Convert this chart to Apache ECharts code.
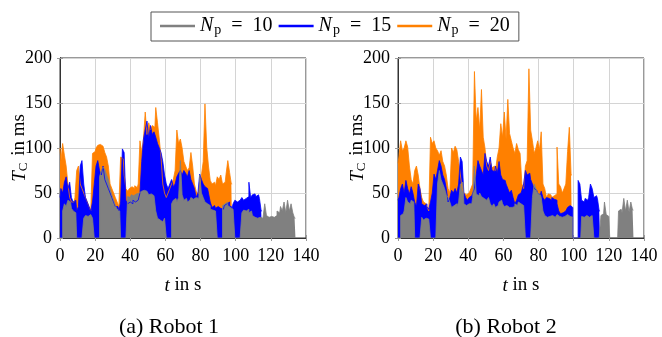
<!DOCTYPE html>
<html>
<head>
<meta charset="utf-8">
<script src="https://cdn.jsdelivr.net/npm/echarts@6/dist/echarts.min.js"></script>
<style>
  html, body { margin: 0; padding: 0; background: #fff; }
  #chart { width: 662px; height: 337px; }
</style>
</head>
<body>
<div id="chart"></div>
<script>
  // sample spacing: 1 s, first sample at t = 0
  const xTicks = [0, 20, 40, 60, 80, 100, 120, 140]
  const yTicks = [0, 50, 100, 150, 200]
  const legendNames = ['10', '15', '20']

  // Robot 1
  const r1Np20 = [100, 85, 105, 92, 80, 60, 45, 40, 40, 45, 75, 80, 60, 55, 50, 45, 40, 35, 30, 94,
    96, 100, 103, 104, 102, 100, 95, 90, 80, 60, 55, 50, 45, 40, 35, 90, 88, 70, 55, 52,
    55, 57, 55, 58, 56, 60, 108, 95, 110, 140, 115, 128, 120, 125, 123, 145, 128, 110, 90, 60,
    50, 45, 50, 55, 60, 65, 75, 120, 105, 110, 100, 85, 80, 75, 78, 95, 80, 60, 52, 49,
    55, 70, 85, 149, 101, 80, 64, 60, 62, 58, 68, 65, 70, 60, 62, 71, 86, 73, 60]
  const r1Np15 = [45, 55, 50, 62, 68, 55, 62, 45, 40, 42, 30, 35, 80, 86, 60, 45, 40, 35, 30, 40,
    60, 80, 86, 75, 70, 80, 65, 60, 55, 50, 45, 40, 35, 35, 30, 40, 99, 95, 42, 38,
    40, 38, 42, 40, 42, 44, 50, 85, 110, 120, 130, 110, 125, 115, 118, 112, 105, 100, 95, 85,
    70, 60, 55, 60, 65, 57, 60, 68, 72, 75, 70, 75, 72, 68, 75, 65, 60, 55, 45, 50,
    71, 65, 60, 57, 55, 50, 40, 34, 36, 33, 35, 33, 34, 32, 36, 38, 40, 36, 34, 38,
    42, 40, 42, 40, 45, 42, 44, 46, 62, 45, 48, 49, 46, 48, 44, 30]
  const r1Np10 = [0, 0, 30, 38, 35, 42, 40, 33, 30, 28, 0, 0, 0, 0, 22, 25, 24, 26, 25, 22,
    0, 0, 0, 68, 75, 79, 76, 70, 65, 55, 48, 42, 36, 32, 30, 0, 0, 0, 0, 46,
    45, 48, 47, 49, 48, 50, 52, 50, 53, 52, 50, 48, 49, 47, 45, 30, 22, 20, 18, 20,
    22, 0, 0, 0, 38, 42, 44, 40, 45, 86, 48, 42, 44, 40, 42, 45, 43, 45, 47, 44,
    70, 50, 45, 40, 38, 36, 32, 31, 30, 31, 0, 0, 0, 36, 38, 40, 36, 34, 32, 30,
    0, 0, 0, 0, 28, 31, 30, 32, 28, 30, 25, 23, 22, 24, 23, 22, 24, 38, 25, 23,
    24, 22, 23, 25, 30, 28, 35, 30, 40, 28, 42, 30, 38, 28, 22]

  // Robot 2
  const r2Np20 = [83, 90, 108, 97, 100, 108, 101, 80, 65, 60, 75, 80, 70, 55, 45, 40, 38, 35, 30, 112,
    105, 108, 100, 97, 92, 97, 85, 80, 70, 55, 50, 100, 95, 102, 98, 85, 70, 55, 50, 48,
    50, 52, 55, 60, 185, 130, 145, 120, 165, 112, 100, 80, 75, 85, 78, 80, 75, 90, 100, 127,
    112, 140, 110, 154, 116, 108, 100, 94, 105, 98, 94, 60, 55, 80, 86, 188, 120, 108, 94, 100,
    108, 98, 118, 60, 55, 45, 49, 48, 45, 47, 49, 101, 60, 57, 50, 55, 60, 96, 123, 70]
  const r2Np15 = [42, 45, 55, 60, 50, 64, 55, 49, 57, 50, 40, 35, 60, 55, 38, 36, 38, 35, 32, 40,
    50, 71, 65, 75, 86, 80, 70, 65, 55, 40, 45, 53, 50, 55, 50, 60, 90, 85, 50, 45,
    42, 45, 47, 50, 55, 70, 86, 80, 75, 70, 94, 85, 80, 90, 75, 74, 80, 72, 85, 70,
    65, 64, 60, 55, 50, 53, 45, 38, 42, 48, 50, 53, 60, 75, 70, 72, 65, 60, 55, 53,
    50, 48, 52, 45, 42, 45, 44, 42, 45, 43, 42, 38, 30, 27, 28, 30, 32, 34, 36, 34,
    0, 0, 0, 64, 60, 42, 40, 44, 42, 45, 60, 55, 45, 47, 44, 30]
  const r2Np10 = [0, 0, 25, 27, 30, 45, 40, 38, 42, 40, 0, 0, 0, 0, 23, 20, 22, 21, 20, 0,
    0, 0, 0, 60, 75, 65, 60, 55, 48, 45, 40, 34, 36, 38, 35, 40, 60, 62, 38, 36,
    38, 40, 38, 45, 80, 49, 47, 50, 46, 44, 42, 40, 45, 38, 35, 38, 34, 36, 40, 42,
    38, 35, 36, 34, 36, 34, 35, 38, 36, 40, 38, 36, 34, 0, 0, 0, 0, 45, 60, 55,
    50, 48, 45, 30, 25, 23, 24, 26, 25, 23, 24, 26, 24, 23, 25, 24, 26, 25, 24, 23,
    0, 0, 0, 0, 0, 24, 23, 25, 24, 23, 25, 24, 0, 0, 0, 0, 25, 27, 40, 26,
    24, 0, 0, 0, 0, 0, 30, 32, 28, 44, 30, 42, 29, 40, 31]

  const colors = { '10': '#808080', '15': '#0000ff', '20': '#ff8000' }
  const serif = 'Liberation Serif'

  const chart = echarts.init(document.getElementById('chart'), null, { renderer: 'canvas' })

  function pts(arr) {
    return arr.map((v, i) => [i, v])
  }

  function mkSeries(name, arr, idx) {
    return {
      name: name,
      type: 'line',
      step: 'middle',
      xAxisIndex: idx,
      yAxisIndex: idx,
      data: pts(arr),
      symbol: 'none',
      lineStyle: { width: 0.8, color: colors[name] },
      itemStyle: { color: colors[name] },
      areaStyle: { color: colors[name], opacity: 1 },
      animation: false
    }
  }

  const grids = [
    { left: 60, top: 58, width: 246, height: 180, show: true, borderColor: '#333', borderWidth: 1 },
    { left: 398, top: 58, width: 246, height: 180, show: true, borderColor: '#333', borderWidth: 1 }
  ]

  function xAx(g) {
    return {
      type: 'value', gridIndex: g, min: xTicks[0], max: xTicks[xTicks.length - 1], interval: 20,
      name: '{i|t} in s', nameLocation: 'middle', nameGap: 38, nameMoveOverlap: false,
      nameTextStyle: { fontFamily: serif, fontSize: 19, color: '#000',
        rich: { i: { fontFamily: serif, fontStyle: 'italic', fontSize: 19 } } },
      axisLine: { show: true, lineStyle: { color: '#333', width: 1 } },
      axisTick: { show: true, length: 3, lineStyle: { color: '#999' } },
      axisLabel: { fontFamily: serif, fontSize: 18, color: '#000', margin: 9 },
      splitLine: { show: true, lineStyle: { color: '#d4d4d4', width: 1 } }
    }
  }
  function xTop(g) {
    return {
      type: 'value', gridIndex: g, position: 'top', min: 0, max: 140, interval: 20,
      axisLine: { show: true, lineStyle: { color: '#333' } },
      axisTick: { show: true, length: 3, lineStyle: { color: '#999' } },
      axisLabel: { show: false }, splitLine: { show: false }
    }
  }
  function yAx(g) {
    return {
      type: 'value', gridIndex: g, min: yTicks[0], max: yTicks[yTicks.length - 1], interval: 50,
      name: '{i|T}{s|C} in ms', nameLocation: 'middle', nameGap: 30, nameRotate: 90,
      nameMoveOverlap: false,
      nameTextStyle: { fontFamily: serif, fontSize: 19, color: '#000',
        rich: {
          i: { fontFamily: serif, fontStyle: 'italic', fontSize: 19 },
          s: { fontFamily: serif, fontSize: 13, padding: [8, 2, 0, 0] }
        } },
      axisLine: { show: true, lineStyle: { color: '#000', width: 1 } },
      axisTick: { show: true, length: 3, lineStyle: { color: '#999' } },
      axisLabel: { fontFamily: serif, fontSize: 18, color: '#000', margin: 8 },
      splitLine: { show: true, lineStyle: { color: '#d4d4d4', width: 1 } }
    }
  }
  function yRight(g) {
    return {
      type: 'value', gridIndex: g, position: 'right', min: 0, max: 200, interval: 50,
      axisLine: { show: true, lineStyle: { color: '#333' } },
      axisTick: { show: true, length: 3, lineStyle: { color: '#999' } },
      axisLabel: { show: false }, splitLine: { show: false }
    }
  }

  const captionStyle = { fontFamily: serif, fontSize: 22, fontWeight: 'normal', color: '#000' }

  chart.setOption({
    backgroundColor: '#fff',
    animation: false,
    title: [
      { text: '(a) Robot 1', left: 164, top: 311, textAlign: 'center', textStyle: captionStyle },
      { text: '(b) Robot 2', left: 501, top: 311, textAlign: 'center', textStyle: captionStyle }
    ],
    legend: {
      data: legendNames,
      left: 151,
      top: 12,
      padding: [4, 9, 4, 9],
      itemGap: 6,
      itemWidth: 35,
      itemHeight: 2.5,
      icon: 'rect',
      borderColor: '#555',
      borderWidth: 1,
      selectedMode: false,
      formatter: name => '{i|N}{s|p}{n|  =  ' + name + '}',
      textStyle: {
        color: '#000', fontFamily: serif, fontSize: 20,
        rich: {
          i: { fontFamily: serif, fontStyle: 'italic', fontSize: 20 },
          s: { fontFamily: serif, fontSize: 14, padding: [8, 0, 0, 1] },
          n: { fontFamily: serif, fontSize: 20 }
        }
      }
    },
    grid: grids,
    xAxis: [xAx(0), xAx(1), xTop(0), xTop(1)],
    yAxis: [yAx(0), yAx(1), yRight(0), yRight(1)],
    series: [
      mkSeries('20', r1Np20, 0),
      mkSeries('15', r1Np15, 0),
      mkSeries('10', r1Np10, 0),
      mkSeries('20', r2Np20, 1),
      mkSeries('15', r2Np15, 1),
      mkSeries('10', r2Np10, 1)
    ]
  })
</script>
</body>
</html>
